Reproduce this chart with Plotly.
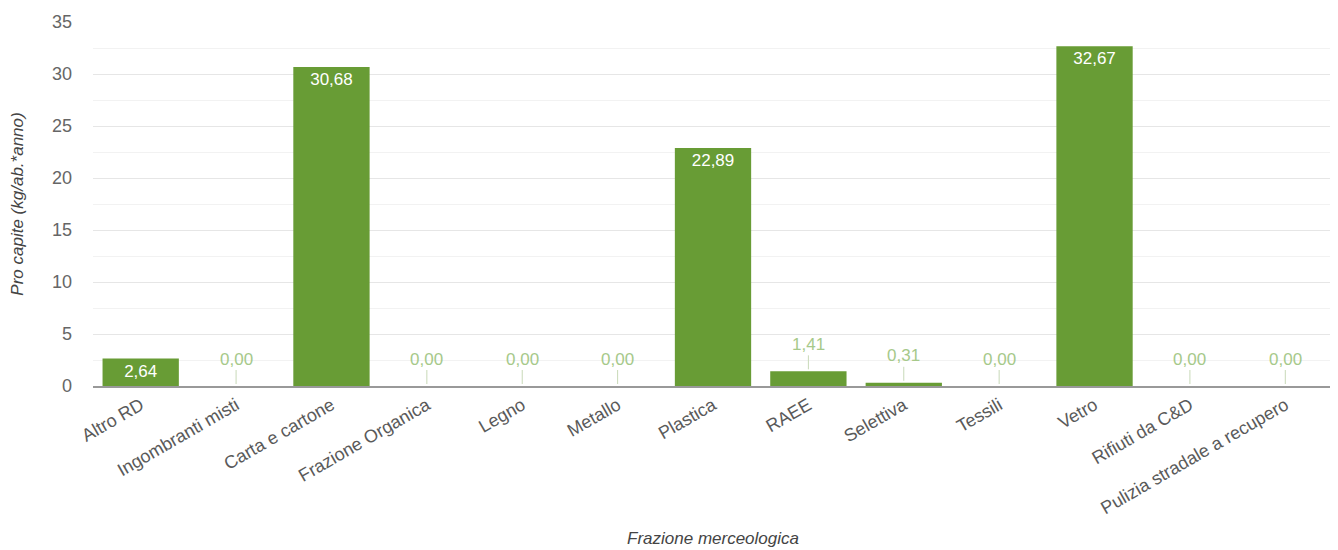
import plotly.graph_objects as go

categories = ["Altro RD", "Ingombranti misti", "Carta e cartone", "Frazione Organica",
              "Legno", "Metallo", "Plastica", "RAEE", "Selettiva", "Tessili", "Vetro",
              "Rifiuti da C&D", "Pulizia stradale a recupero"]
values = [2.64, 0.00, 30.68, 0.00, 0.00, 0.00, 22.89, 1.41, 0.31, 0.00, 32.67, 0.00, 0.00]

y_ticks = [0, 5, 10, 15, 20, 25, 30, 35]
y_minor = [2.5, 7.5, 12.5, 17.5, 22.5, 27.5, 32.5]

BAR = "#689c35"
LABEL_OUT = "#a6c98a"
FONT = "Liberation Sans, Arial, sans-serif"

def fmt(v):
    return f"{v:.2f}".replace(".", ",")

inside_text = [fmt(v) if v >= 2 else "" for v in values]

fig = go.Figure()
fig.add_trace(go.Bar(
    x=categories, y=values,
    marker=dict(color=BAR, line=dict(width=0)),
    width=0.8,
    text=inside_text,
    textposition="inside",
    insidetextanchor="end",
    textfont=dict(color="white", size=17, family=FONT),
    constraintext="none",
    hoverinfo="x+y",
))

annotations = []
for c, v in zip(categories, values):
    if v < 2:
        annotations.append(dict(
            x=c, y=v, xref="x", yref="y",
            text=fmt(v), showarrow=True, arrowhead=0, arrowwidth=1,
            arrowcolor="#c8d9b8", ax=0, ay=-27, standoff=2,
            font=dict(color=LABEL_OUT, size=17, family=FONT),
        ))

fig.update_layout(
    width=1330, height=542,
    margin=dict(l=85, r=5, t=14, b=164),
    paper_bgcolor="white", plot_bgcolor="white",
    separators=",.",
    font=dict(family=FONT, color="#666666", size=17),
    showlegend=False,
    bargap=0.2,
    annotations=annotations,
    xaxis=dict(
        type="category",
        tickangle=-30,
        tickfont=dict(size=18, color="#5a5a5a"),
        showline=True, linecolor="#999999", linewidth=1.5,
        showgrid=False,
        ticks="",
        automargin=False,
        title=dict(text="<i>Frazione merceologica</i>", font=dict(size=17, color="#444444"), standoff=15),
    ),
    yaxis=dict(
        range=[0, 35],
        tickvals=y_ticks,
        tickfont=dict(size=18, color="#666666"),
        showgrid=True, gridcolor="#e6e6e6", gridwidth=1,
        minor=dict(tickvals=y_minor, showgrid=True, gridcolor="#f2f2f2", gridwidth=1),
        zeroline=False,
        ticks="", ticklabelstandoff=20,
        automargin=False,
        title=dict(text="<i>Pro capite (kg/ab.*anno)</i>", font=dict(size=17, color="#444444"), standoff=26),
    ),
)

fig.write_html("out.html")
